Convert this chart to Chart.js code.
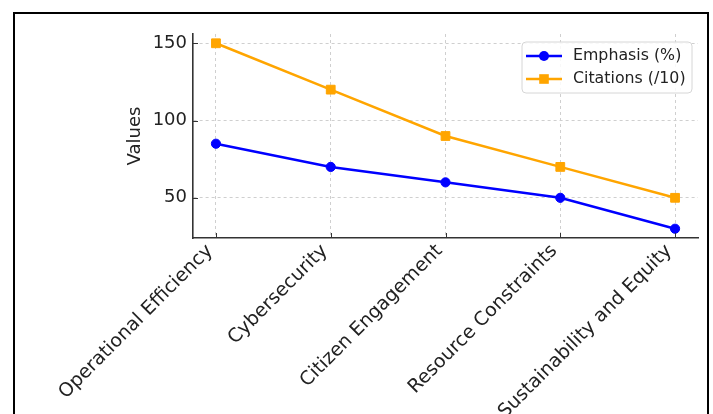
<!DOCTYPE html>
<html>
<head>
<meta charset="utf-8">
<script src="https://cdn.jsdelivr.net/npm/chart.js@4.4.1/dist/chart.umd.min.js"></script>
<style>
  html, body { margin: 0; padding: 0; background: #fff; overflow: hidden; }
  #wrap { position: relative; width: 713px; height: 414px; }
  #frame { position: absolute; left: 13px; top: 12px; width: 696px; height: 430px; border: 2px solid #000; box-sizing: border-box; }
  #c { position: absolute; left: 0; top: 0; }
</style>
</head>
<body>
<div id="wrap">
  <div id="frame"></div>
  <canvas id="c" width="713" height="414"></canvas>
</div>
<script>
const categories = ["Operational Efficiency", "Cybersecurity", "Citizen Engagement", "Resource Constraints", "Sustainability and Equity"];
const emphasis = [85, 70, 60, 50, 30];
const citations = [150, 120, 90, 70, 50];
const seriesLabels = ["Emphasis (%)", "Citations (/10)"];
const yTicks = [50, 100, 150];
const yMin = 24, yMax = 156;

const FONT = "'DejaVu Sans', sans-serif";
const TEXT = '#222';
const SPINE = '#333';

const tickMarks = {
  id: 'tickMarks',
  afterDraw(chart) {
    const ctx = chart.ctx, a = chart.chartArea;
    const xs = chart.scales.x, ys = chart.scales.y;
    ctx.save();
    ctx.strokeStyle = SPINE; ctx.lineWidth = 1;
    ys.ticks.forEach(t => { const y = Math.round(ys.getPixelForValue(t.value)) + 0.5; ctx.beginPath(); ctx.moveTo(a.left, y); ctx.lineTo(a.left + 5, y); ctx.stroke(); });
    xs.ticks.forEach(t => { const x = Math.round(xs.getPixelForValue(t.value)) + 0.5; ctx.beginPath(); ctx.moveTo(x, a.bottom); ctx.lineTo(x, a.bottom - 5); ctx.stroke(); });
    ctx.restore();
  }
};

const boxLegend = {
  id: 'boxLegend',
  afterDraw(chart) {
    const ctx = chart.ctx;
    const bx = 522, by = 42, bw = 170, bh = 51, r = 4;
    ctx.save();
    ctx.beginPath();
    ctx.moveTo(bx + r, by); ctx.lineTo(bx + bw - r, by); ctx.quadraticCurveTo(bx + bw, by, bx + bw, by + r);
    ctx.lineTo(bx + bw, by + bh - r); ctx.quadraticCurveTo(bx + bw, by + bh, bx + bw - r, by + bh);
    ctx.lineTo(bx + r, by + bh); ctx.quadraticCurveTo(bx, by + bh, bx, by + bh - r);
    ctx.lineTo(bx, by + r); ctx.quadraticCurveTo(bx, by, bx + r, by);
    ctx.closePath();
    ctx.fillStyle = 'rgba(255,255,255,0.85)'; ctx.fill();
    ctx.strokeStyle = '#d6d6d6'; ctx.lineWidth = 1; ctx.stroke();
    chart.data.datasets.forEach((ds, i) => {
      const y = by + 14 + i * 23;
      ctx.strokeStyle = ds.borderColor; ctx.lineWidth = 2.4;
      ctx.beginPath(); ctx.moveTo(bx + 4, y); ctx.lineTo(bx + 40, y); ctx.stroke();
      ctx.fillStyle = ds.borderColor;
      const cx = bx + 22;
      if (ds.pointStyle === 'rect') { ctx.fillRect(cx - 4.8, y - 4.8, 9.6, 9.6); }
      else { ctx.beginPath(); ctx.arc(cx, y, 5, 0, Math.PI * 2); ctx.fill(); }
      ctx.fillStyle = TEXT; ctx.font = "15.8px " + FONT; ctx.textBaseline = 'middle'; ctx.textAlign = 'left';
      ctx.fillText(ds.label, bx + 51, y);
    });
    ctx.restore();
  }
};

new Chart(document.getElementById('c'), {
  type: 'line',
  data: {
    datasets: [
      { label: seriesLabels[0], data: emphasis.map((v, i) => ({ x: i, y: v })), borderColor: '#0000ff', backgroundColor: '#0000ff',
        borderWidth: 2.5, pointStyle: 'circle', pointRadius: 4.6, pointBorderWidth: 1, pointBorderColor: '#0000ff', pointBackgroundColor: '#0000ff', tension: 0 },
      { label: seriesLabels[1], data: citations.map((v, i) => ({ x: i, y: v })), borderColor: '#ffa500', backgroundColor: '#ffa500',
        borderWidth: 2.5, pointStyle: 'rect', pointRadius: 6.2, pointBorderWidth: 1, pointBorderColor: '#ffa500', pointBackgroundColor: '#ffa500', tension: 0 }
    ]
  },
  options: {
    responsive: false, animation: false, events: [],
    layout: { padding: { left: 121, top: 34, right: 15, bottom: 0 } },
    plugins: { legend: { display: false }, tooltip: { enabled: false } },
    scales: {
      x: {
        type: 'linear', min: -0.2, max: 4.2,
        afterBuildTicks: s => { s.ticks = categories.map((_, i) => ({ value: i })); },
        afterFit: s => { s.height = 176; },
        grid: { color: '#cfcfcf', lineWidth: 1, drawTicks: false },
        border: { display: true, color: SPINE, width: 1.6, dash: [3, 3] },
        ticks: { autoSkip: false, maxRotation: 45, minRotation: 45, padding: 2, labelOffset: -6, color: TEXT, font: { family: FONT, size: 19 },
                 callback: v => categories[v] }
      },
      y: {
        min: yMin, max: yMax,
        afterBuildTicks: s => { s.ticks = yTicks.map(v => ({ value: v })); },
        afterFit: s => { s.width = 72; },
        grid: { color: '#cfcfcf', lineWidth: 1, drawTicks: false },
        border: { display: true, color: SPINE, width: 1.6, dash: [3, 3] },
        ticks: { padding: 6, color: TEXT, font: { family: FONT, size: 18 } },
        title: { display: true, text: 'Values', color: TEXT, font: { family: FONT, size: 18 }, padding: { top: 4, bottom: 4 } }
      }
    }
  },
  plugins: [tickMarks, boxLegend]
});
</script>
</body>
</html>
